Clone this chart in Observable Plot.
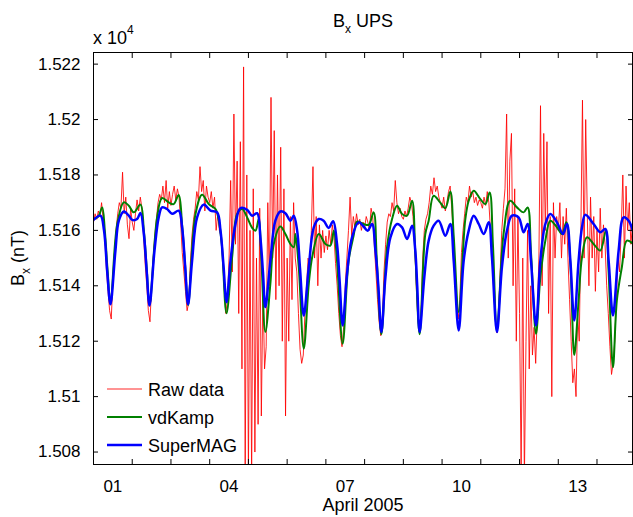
<!DOCTYPE html>
<html><head><meta charset="utf-8">
<script src="https://cdn.jsdelivr.net/npm/d3@7"></script>
<script src="https://cdn.jsdelivr.net/npm/@observablehq/plot@0.6"></script>
<style>body{margin:0;background:#fff} svg{display:block}</style>
</head><body><div id="chart"></div><script>
// ---- data (hours since 2005-04-01 00:00 UT, nT) ----
const rawStartHour = 0; // hourly samples
const rawValues = [
15163,15166,15164,15167,15165,15170,15164,15157,15146,15138,15131,15128,15142,15152,15160,15166,15170,15168,15181,15166,15172,15162,15157,15168,
15163,15160,15166,15171,15167,15172,15168,15158,15148,15140,15131,15127,15140,15150,15158,15164,15170,15173,15171,15176,15170,15178,15168,15174,
15169,15173,15176,15171,15175,15172,15163,15152,15145,15138,15131,15134,15148,15158,15164,15168,15174,15171,15183,15174,15178,15167,15176,15172,
15170,15174,15168,15172,15160,15166,15160,15158,15150,15140,15130,15135,15150,15178,15145,15202,15155,15185,15130,15192,15110,15219,15070,15180,
15072,15160,15070,15175,15080,15150,15090,15168,15093,15140,15110,15118,15170,15140,15208,15150,15196,15135,15180,15140,15190,15120,15175,15093,
15150,15120,15165,15135,15170,15150,15145,15130,15117,15112,15115,15130,15140,15150,15145,15160,15183,15150,15165,15140,15162,15150,15160,15152,
15158,15153,15160,15155,15162,15158,15148,15140,15130,15122,15118,15125,15140,15150,15160,15172,15158,15165,15161,15166,15162,15164,15160,15163,
15161,15165,15163,15160,15168,15165,15155,15145,15135,15127,15122,15128,15145,15155,15163,15166,15165,15170,15167,15178,15170,15166,15168,15165,
15164,15167,15165,15168,15172,15170,15165,15155,15140,15128,15123,15130,15150,15160,15164,15166,15170,15176,15173,15179,15174,15176,15172,15170,
15168,15172,15167,15170,15174,15176,15168,15158,15145,15135,15128,15135,15152,15160,15166,15172,15170,15176,15172,15174,15170,15172,15169,15171,
15170,15168,15172,15169,15174,15170,15160,15150,15138,15128,15123,15130,15145,15160,15168,15175,15202,15150,15185,15195,15140,15175,15120,15165,
15130,15072,15150,15070,15120,15160,15110,15140,15115,15125,15112,15130,15150,15205,15140,15195,15160,15192,15130,15165,15100,15170,15150,15165,
15160,15170,15150,15165,15155,15168,15150,15135,15120,15105,15110,15100,15130,15120,15160,15207,15150,15200,15165,15140,15172,15150,15165,15138,
15160,15145,15168,15150,15162,15155,15140,15130,15118,15108,15112,15120,15135,15150,15145,15160,15180,15150,15176,15160,15170,15155,15162
];
const vdKampHours = [0,3,5.4,7,8.8,10.5,14.7,18.8,21.9,25,29.1,31.2,33,34.7,39.4,42.5,46.6,49.7,52.8,54.9,56.8,58.6,63.2,67.3,71.4,75.6,77.5,79.5,82.4,85.9,89,92.1,95.2,98.3,100.4,102.4,104,106.5,109.6,111.7,115.8,118.9,122,124.1,125.1,127.2,130.3,133.4,135.5,139.6,143.7,146.8,148.9,150.9,154.4,158.1,161.2,163.3,167.4,170.5,173.6,175.5,178.4,181.9,185,188.1,191.2,194.3,197.4,199.4,202.1,205.6,207.7,210.8,214.9,218,221.1,223.2,226.3,230.3,232.5,235.6,239.7,242.8,245.5,247.5,250,254.1,258.2,262.4,266.5,269,271.1,274.2,276.9,280,283.1,287.2,290.3,293,295.5,297.9,300.6,302.7,305.8,309.9,314,317.5,319.2,321.9,324.3,327.4,330.5,334.5];
const vdKampValues = [15164,15165,15168.3,15160,15145,15133.5,15162.3,15170.1,15168.9,15166.5,15169.3,15160,15146,15133,15164.7,15171.7,15170.1,15169.5,15172.8,15162,15147,15133,15165.9,15172.9,15169.5,15167.7,15164,15155,15130.1,15150.3,15165.9,15167.7,15164.7,15160.9,15159.9,15164.1,15150,15123.3,15140.8,15155.1,15161.4,15158.7,15155.1,15153.9,15158.7,15146.7,15117.3,15140.7,15150.3,15158.7,15155.1,15154.5,15159.9,15149.1,15119.1,15149.1,15158.1,15163.2,15162.3,15162,15166.5,15150,15122.5,15153.9,15164.1,15168.9,15165.9,15165.3,15170.7,15152,15122.5,15158.7,15163.5,15172.5,15170,15168,15174,15158,15130.5,15163.5,15170.7,15174.3,15171.3,15169.5,15173.7,15155,15123.9,15158.7,15170.7,15168.3,15166.5,15168.3,15152,15122.7,15143.1,15156.3,15163.5,15161.1,15158.7,15162.9,15148,15115,15134.7,15150.3,15157.5,15155.1,15152.7,15159.9,15145,15110.6,15134.7,15146.7,15156.3,15155.1];
const superMagHours = [0,4.3,6.5,8.5,10.5,13.6,15.7,18.8,21.9,24,27,29.1,31.2,33,34.7,37.8,40.4,42.5,45.6,48.7,52.8,54.9,56.8,58.6,61.1,64.2,68.3,72.5,76.6,78.7,80.6,82.4,84.9,88,91,95.2,98.3,101.4,103.4,105,106.5,109.6,112.7,115.8,118.9,122,124.1,126.2,128,130.3,133.4,136.5,139.6,142.6,145.7,148.5,150.9,152.5,154.4,157.1,160.2,164.3,167.4,169.9,172.6,174.7,176.5,178.4,180.9,184,188.1,191.2,194.3,197.4,199.4,200.6,202.1,205,207.7,210.8,213.9,218,221.1,223.2,226.3,229.4,232.5,235.6,238.7,241.8,244.9,246.9,250,253.1,256.2,259.3,263.4,266.5,269,271.1,274.2,276.9,280,283.1,287.2,290.9,293.4,295.5,297.9,300.6,302.7,304.7,309.9,314,317.1,319.2,321.9,325.4,328.5,331.6,334.5];
const superMagValues = [15163.8,15165.3,15160,15145,15133.3,15152.7,15163.5,15166.8,15165.3,15163.8,15164.1,15166.3,15158.7,15145,15132.9,15152.7,15164.7,15168.3,15167.7,15166,15167.1,15161.1,15147,15133.3,15149.1,15164.7,15169.3,15167.1,15166.5,15159.9,15147,15134.1,15149.1,15162.3,15168,15167.4,15165.3,15166.2,15157.5,15145,15132.3,15149.1,15163.5,15166.8,15166.2,15163.5,15165.3,15159.9,15146,15129.3,15146.7,15161.1,15164.1,15163.5,15160.9,15163.3,15155.1,15142,15125.7,15144.3,15157.5,15162.9,15161.4,15159.9,15162.3,15152.7,15140,15123.3,15143.1,15157.5,15162.3,15161.1,15156.9,15161.7,15152.7,15140,15123.3,15143.1,15156.3,15161.7,15163.5,15158.1,15162.3,15149.1,15123.9,15149.1,15159.9,15165.3,15162.3,15158.7,15162.9,15150.3,15123.3,15146.7,15159.9,15165.3,15164.7,15159.3,15162.3,15149.1,15125.7,15149.1,15162.3,15165.9,15162.9,15158.7,15162.3,15149.1,15127.5,15149.1,15161.1,15165.6,15162.3,15159.3,15160.5,15149.1,15129.3,15152.7,15164.7,15163.5,15159.3];
const seriesNames = ["Raw data", "vdKamp", "SuperMAG"];
const yTickValues = [15080, 15100, 15120, 15140, 15160, 15180, 15200, 15220];
const yTickLabels = ["1.508", "1.51", "1.512", "1.514", "1.516", "1.518", "1.52", "1.522"];
const xLabelDays = [1, 4, 7, 10, 13];
const xLabels = ["01", "04", "07", "10", "13"];
const xTickDays = [2, 3, 4, 5, 6, 7, 8, 9, 10, 11, 12, 13, 14];

// ---- build tables ----
const t0 = Date.UTC(2005, 3, 1);
const toDate = h => new Date(t0 + h * 3600e3);
const raw = rawValues.map((v, i) => ({date: toDate(rawStartHour + i), value: v}));
const vdKamp = vdKampHours.map((h, i) => ({date: toDate(h), value: vdKampValues[i]}));
const superMag = superMagHours.map((h, i) => ({date: toDate(h), value: superMagValues[i]}));
const xTickDates = xTickDays.map(d => new Date(Date.UTC(2005, 3, d)));
const xLabelDates = xLabelDays.map(d => new Date(Date.UTC(2005, 3, d, 12)));

const FONT = "'Liberation Sans', Arial, Helvetica, sans-serif";
const chart = Plot.plot({
  width: 633, height: 517,
  marginLeft: 93, marginRight: 1, marginTop: 52, marginBottom: 53,
  style: {fontFamily: FONT, fontSize: "17px", background: "white", color: "black", overflow: "visible"},
  x: {type: "utc", domain: [toDate(0), toDate(334)]},
  y: {domain: [15075.5, 15224.2]},
  marks: [
    Plot.line(raw, {x: "date", y: "value", stroke: "#ff0000", strokeWidth: 0.85, clip: true}),
    Plot.line(vdKamp, {x: "date", y: "value", stroke: "#008000", strokeWidth: 2, curve: "catmull-rom", clip: true}),
    Plot.line(superMag, {x: "date", y: "value", stroke: "#0000ff", strokeWidth: 2.5, curve: "catmull-rom", clip: true}),
    Plot.frame({stroke: "black", strokeWidth: 1}),
    Plot.axisY({anchor: "left", ticks: yTickValues, tickSize: 5, dx: 5, tickPadding: 13,
      tickFormat: d => yTickLabels[yTickValues.indexOf(d)], label: null}),
    Plot.axisY({anchor: "right", ticks: yTickValues, tickSize: 5, dx: -5, tickFormat: () => "", label: null}),
    Plot.axisX({anchor: "bottom", ticks: xTickDates, tickSize: 5, dy: -5, tickFormat: () => "", label: null}),
    Plot.axisX({anchor: "top", ticks: xTickDates, tickSize: 5, dy: 5, tickFormat: () => "", label: null}),
    Plot.axisX({anchor: "bottom", ticks: xLabelDates, tickSize: 0, tickPadding: 15,
      tickFormat: d => xLabels[xLabelDates.findIndex(t => +t === +d)], label: null})
  ]
});
document.getElementById("chart").appendChild(chart);

// ---- titles and legend ----
const svg = d3.select(chart);
const fs = 18;
const title = svg.append("text").attr("x", 363).attr("y", 27).attr("text-anchor", "middle")
  .style("font-family", FONT).style("font-size", fs + "px").attr("fill", "black");
title.append("tspan").text("B");
title.append("tspan").attr("dy", 6).style("font-size", "12px").text("x");
title.append("tspan").attr("dy", -6).text(" UPS");

const mult = svg.append("text").attr("x", 93).attr("y", 44).attr("text-anchor", "start")
  .style("font-family", FONT).style("font-size", fs + "px").attr("fill", "black");
mult.append("tspan").text("x 10");
mult.append("tspan").attr("dy", -10).style("font-size", "12px").text("4");

const ylab = svg.append("text").attr("transform", "translate(24,258) rotate(-90)").attr("text-anchor", "middle")
  .style("font-family", FONT).style("font-size", fs + "px").attr("fill", "black");
ylab.append("tspan").text("B");
ylab.append("tspan").attr("dy", 6).style("font-size", "12px").text("x");
ylab.append("tspan").attr("dy", -6).text(" (nT)");

svg.append("text").attr("x", 363).attr("y", 511).attr("text-anchor", "middle")
  .style("font-family", FONT).style("font-size", fs + "px").attr("fill", "black").text("April 2005");

const legendColors = ["#ff0000", "#008000", "#0000ff"];
const legendWidths = [0.85, 2, 2.5];
const legendY = [389, 417, 445];
seriesNames.forEach((name, i) => {
  svg.append("line").attr("x1", 107).attr("x2", 142).attr("y1", legendY[i]).attr("y2", legendY[i])
    .attr("stroke", legendColors[i]).attr("stroke-width", legendWidths[i]);
  svg.append("text").attr("x", 148).attr("y", legendY[i] + 6.5).attr("text-anchor", "start")
    .style("font-family", FONT).style("font-size", "18px").attr("fill", "black").text(name);
});
</script></body></html>
